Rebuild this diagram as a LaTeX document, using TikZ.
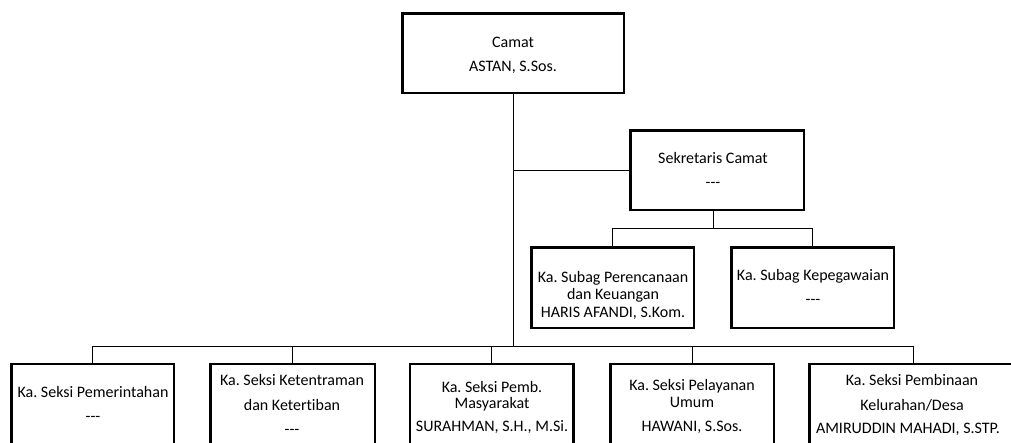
\documentclass[tikz,border=0pt]{standalone}
\usepackage{fontspec}
\setmainfont{Carlito}[Ligatures={NoCommon}]
\newcommand{\tridash}{-{}-{}-}
\frenchspacing
\begin{document}
\begin{tikzpicture}[x=1pt,y=-1pt,
  orgbox/.style={draw=black, line width=2.5pt, fill=white, inner sep=0pt},
  conn/.style={draw=black, line width=0.9pt},
  txt/.style={anchor=base, inner sep=0pt, font=\fontsize{16}{19}\selectfont\frenchspacing}
]
\useasboundingbox (0,0) rectangle (1011,442);
\begin{scope}
\clip (0,0) rectangle (1011,442);
% boxes
\node[orgbox, minimum width=221.5pt, minimum height=79.5pt] (camat) at (513,53) {};
\node[orgbox, minimum width=173.5pt, minimum height=79.5pt] (sek) at (717,170) {};
\node[orgbox, minimum width=162.5pt, minimum height=80.5pt] (sp) at (612.5,287.5) {};
\node[orgbox, minimum width=162.5pt, minimum height=80.5pt] (sk) at (812.5,287.5) {};
\node[orgbox, minimum width=162.5pt, minimum height=116pt] (b1) at (92.5,422) {};
\node[orgbox, minimum width=164.5pt, minimum height=116pt] (b2) at (292.5,422) {};
\node[orgbox, minimum width=163.5pt, minimum height=116pt] (b3) at (491.5,422) {};
\node[orgbox, minimum width=163.5pt, minimum height=116pt] (b4) at (692,422) {};
\node[orgbox, minimum width=207.5pt, minimum height=116pt] (b5) at (913,422) {};
% connectors
\coordinate (bus) at (513,346);
\coordinate (subbus) at (713,228);
\draw[conn] (camat.south) -- (bus);
\draw[conn] (sek.west) -- (sek.west -| camat.south);
\draw[conn] ([xshift=-4pt]sek.south) -- (subbus);
\draw[conn] (sp.north) |- (sk.north |- subbus) -- (sk.north);
\draw[conn] (b1.north) |- (b5.north |- bus) -- (b5.north);
\draw[conn] (b2.north) -- (b2.north |- bus);
\draw[conn] (b3.north) -- (b3.north |- bus);
\draw[conn] (b4.north) -- (b4.north |- bus);
% texts
\node[txt] (camat1) at (513,47) {Camat};
\node[txt] (camat2) at (513,71) {ASTAN, S.Sos.};
\node[txt] (sek1) at (713,163) {Sekretaris Camat};
\node[txt] (sek2) at (713,187) {\tridash};
\node[txt] (sp1) at (613,282) {Ka. Subag Perencanaan};
\node[txt] (sp2) at (613,299) {dan Keuangan};
\node[txt] (sp3) at (613,317) {HARIS AFANDI, S.Kom.};
\node[txt] (sk1) at (813,280) {Ka. Subag Kepegawaian};
\node[txt] (sk2) at (813,304) {\tridash};
\node[txt] (b1a) at (93,397) {Ka. Seksi Pemerintahan};
\node[txt] (b1b) at (93,421) {\tridash};
\node[txt] (b2a) at (292,385) {Ka. Seksi Ketentraman};
\node[txt] (b2b) at (292,410) {dan Ketertiban};
\node[txt] (b2c) at (292,434) {\tridash};
\node[txt] (b3a) at (492,392) {Ka. Seksi Pemb.};
\node[txt] (b3b) at (492,408) {Masyarakat};
\node[txt] (b3c) at (492,431) {SURAHMAN, S.H., M.Si.};
\node[txt] (b4a) at (692,390) {Ka. Seksi Pelayanan};
\node[txt] (b4b) at (692,407) {Umum};
\node[txt] (b4c) at (692,431) {HAWANI, S.Sos.};
\node[txt] (b5a) at (912,385) {Ka. Seksi Pembinaan};
\node[txt] (b5b) at (912,410) {Kelurahan/Desa};
\node[txt] (b5c) at (908,433) {AMIRUDDIN MAHADI, S.STP.};
\end{scope}
\end{tikzpicture}
\end{document}
